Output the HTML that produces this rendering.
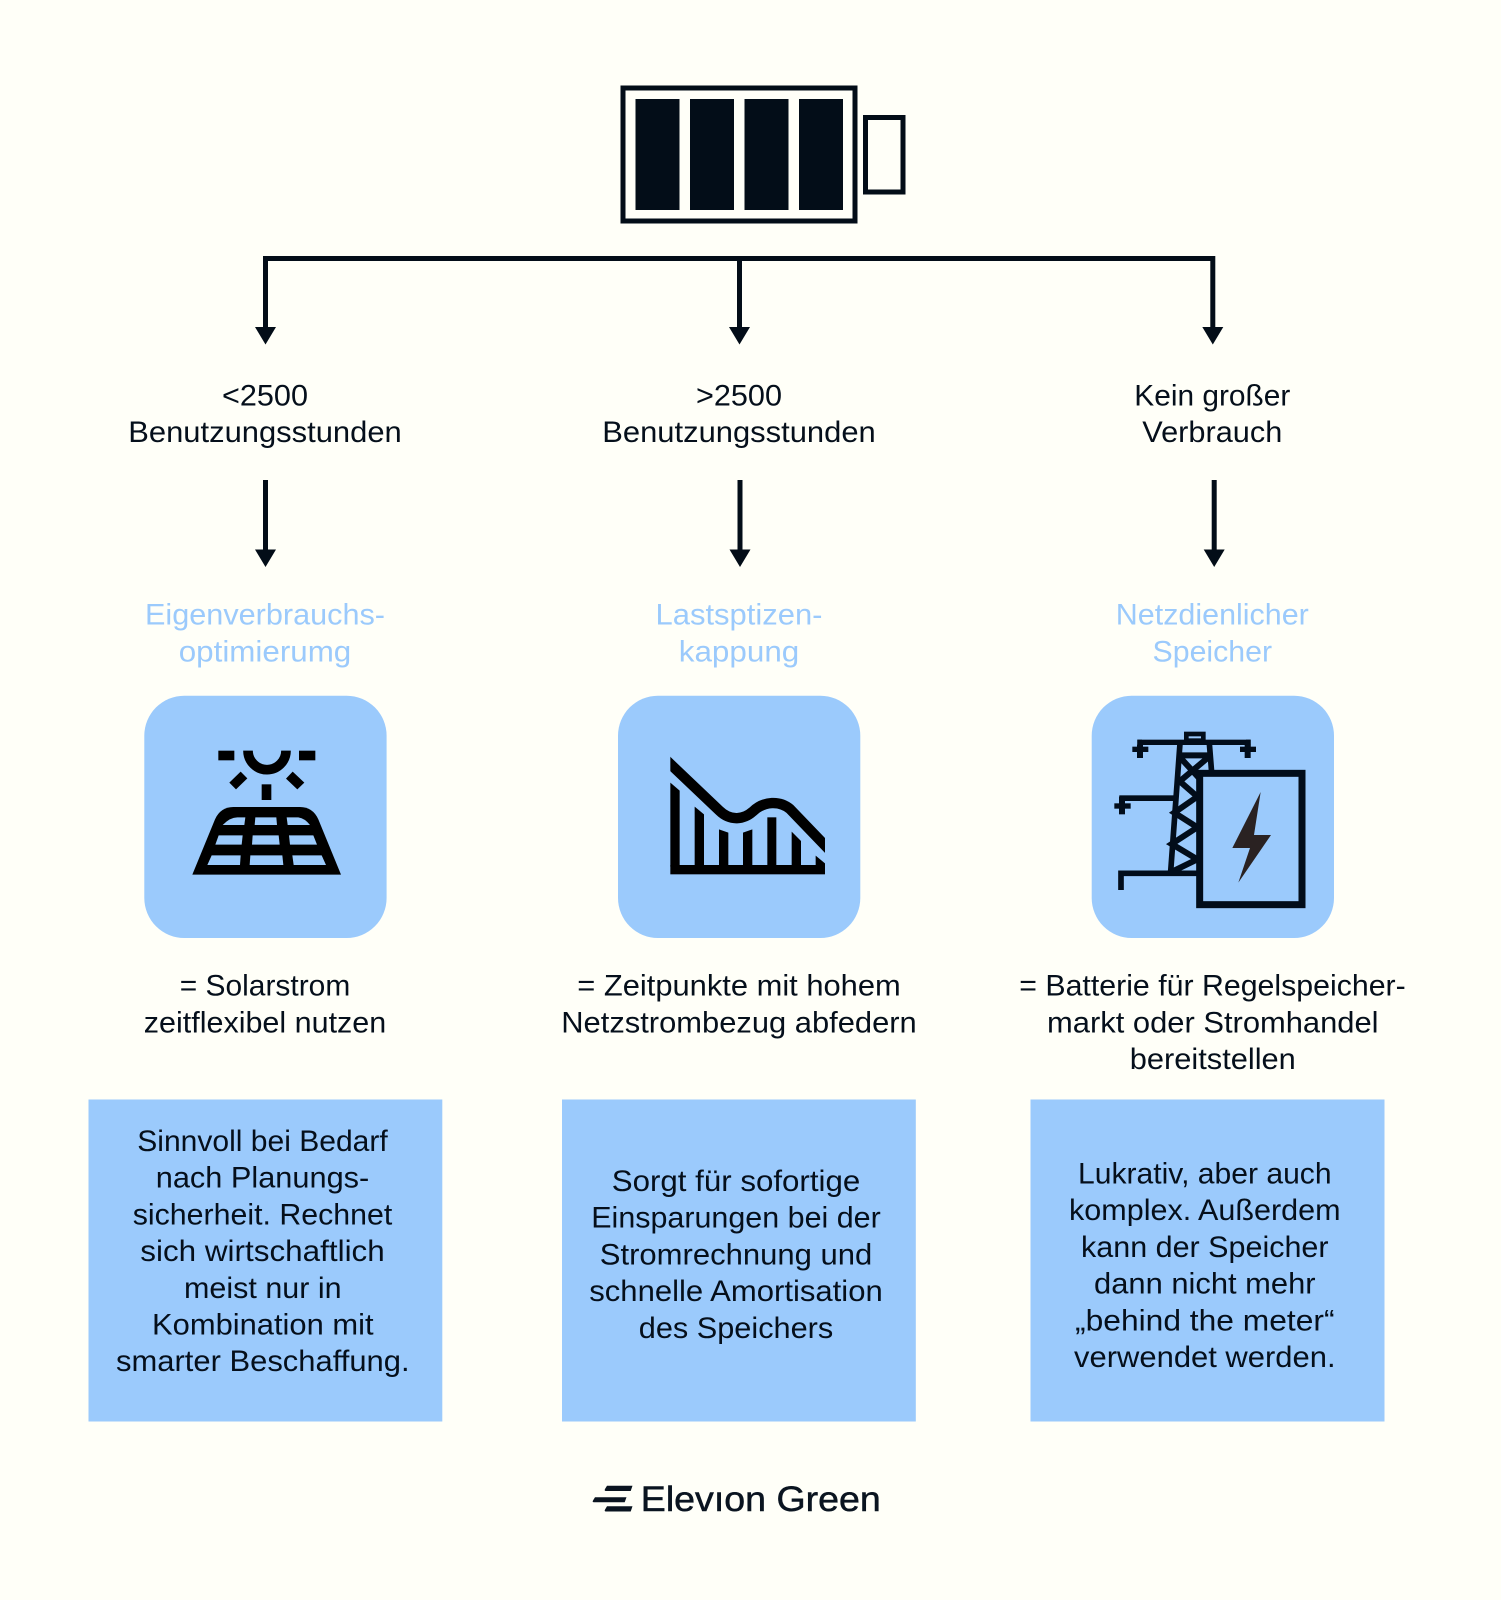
<!DOCTYPE html>
<html><head><meta charset="utf-8"><style>
html,body{margin:0;padding:0;background:#fffff8}
svg{display:block}
text{font-family:"Liberation Sans",sans-serif;font-size:30px;fill:#050f1b;text-anchor:middle;letter-spacing:0}
text.b{fill:#9bcafc}
</style></head><body>
<svg width="1501" height="1600" viewBox="0 0 1501 1600" xmlns="http://www.w3.org/2000/svg">
<rect width="1501" height="1600" fill="#fffff8"/>
<!-- battery -->
<g fill="#030d18">
<rect x="635.5" y="99" width="44" height="111"/><rect x="690" y="99" width="44" height="111"/><rect x="744.5" y="99" width="44" height="111"/><rect x="799" y="99" width="44" height="111"/>
</g>
<rect x="623" y="88" width="232" height="133" fill="none" stroke="#030d18" stroke-width="5"/>
<rect x="865.5" y="117.500" width="37.500" height="74.500" fill="none" stroke="#030d18" stroke-width="5"/>
<!-- connectors -->
<g fill="none" stroke="#030d18" stroke-width="5">
<path d="M265.500 330V258.500H1212.800V330"/><path d="M739.500 258V330"/>
<path d="M265.500 480V553M740 480V553M1214.200 480V553"/>
</g>
<g fill="#030d18">
<path d="M255 327h21l-10.500 17.500zM729 327h21l-10.500 17.500zM1202.300 327h21l-10.500 17.500z"/>
<path d="M255 549.500h21l-10.500 17.500zM729.500 549.500h21l-10.500 17.500zM1203.700 549.500h21l-10.500 17.500z"/>
</g>
<!-- labels -->
<text lengthAdjust="spacingAndGlyphs" x="265" y="405.700" textLength="86">&lt;2500</text>
<text lengthAdjust="spacingAndGlyphs" x="265" y="442.200" textLength="273.500">Benutzungsstunden</text>
<text lengthAdjust="spacingAndGlyphs" x="739" y="405.700" textLength="86">&gt;2500</text>
<text lengthAdjust="spacingAndGlyphs" x="739" y="442.200" textLength="273.500">Benutzungsstunden</text>
<text lengthAdjust="spacingAndGlyphs" x="1212.300" y="405.700" textLength="156">Kein großer</text>
<text lengthAdjust="spacingAndGlyphs" x="1212.300" y="442.200" textLength="140">Verbrauch</text>
<text lengthAdjust="spacingAndGlyphs" class="b" x="265" y="624.700" textLength="240">Eigenverbrauchs-</text>
<text lengthAdjust="spacingAndGlyphs" class="b" x="265" y="661.500" textLength="172.500">optimierumg</text>
<text lengthAdjust="spacingAndGlyphs" class="b" x="739" y="624.700" textLength="167">Lastsptizen-</text>
<text lengthAdjust="spacingAndGlyphs" class="b" x="739" y="661.500" textLength="120.500">kappung</text>
<text lengthAdjust="spacingAndGlyphs" class="b" x="1212.300" y="624.700" textLength="193">Netzdienlicher</text>
<text lengthAdjust="spacingAndGlyphs" class="b" x="1212.300" y="661.500" textLength="119.500">Speicher</text>
<!-- icon boxes -->
<rect x="144.300" y="695.700" width="242.300" height="242.300" rx="40" fill="#9bcafc"/>
<rect x="618" y="695.700" width="242.300" height="242.300" rx="40" fill="#9bcafc"/>
<rect x="1091.700" y="695.700" width="242.300" height="242.300" rx="40" fill="#9bcafc"/>
<!-- solar -->
<g transform="translate(130,680) scale(.33333)" fill="#000">
<rect x="265" y="212" width="48" height="29"/><rect x="507" y="212" width="49" height="29"/>
<path d="M354 212A57 57 0 0 0 468 212" fill="none" stroke="#000" stroke-width="29"/>
<polygon points="298,308 332,275 352,295 318,328"/><polygon points="468,296 488,275 523,308 502,328"/>
<rect x="395" y="313" width="29" height="47"/>
<path d="M187 584H633L565 418Q548 381 510 381H310Q272 381 255 418Z"/>
<g fill="#9bcafc">
<path d="M278 435Q300 412 322 412H346L343 435Z"/>
<polygon points="376,412 439,412 441,435 374,435"/>
<path d="M470 412H505Q525 415 540 435H473Z"/>
<polygon points="266,466 338,466 335,494 256,494"/><polygon points="368,466 446,466 449,494 366,494"/><polygon points="477,466 550,466 561,494 480,494"/>
<polygon points="245,526 332,526 330,555 232,555"/><polygon points="361,526 457,526 460,555 359,555"/><polygon points="487,526 575,526 588,555 491,555"/>
</g>
</g>
<!-- chart -->
<g transform="translate(610,680) scale(.33333)" fill="#000">
<clipPath id="c"><rect x="181" y="200" width="464" height="400"/></clipPath>
<path clip-path="url(#c)" d="M160 232L328 392C362 425 402 418 428 395C462 362 510 362 540 387L665 517" fill="none" stroke="#000" stroke-width="31"/>
<rect x="181" y="555" width="464" height="28"/>
<polygon points="181,308 209,332 209,560 181,560"/>
<polygon points="254,380 282,403 282,560 254,560"/>
<polygon points="327,448 355,458 355,560 327,560"/>
<polygon points="399,458 427,448 427,560 399,560"/>
<rect x="472" y="412" width="27" height="148"/>
<polygon points="545,455 573,483 573,560 545,560"/>
<polygon points="617,527 645,550 645,560 617,560"/>
</g>
<!-- tower -->
<g transform="translate(1080,680) scale(.33333)" fill="#020d1a">
<g fill="none" stroke="#020d1a" stroke-width="18">
<rect x="319" y="162" width="51" height="20" stroke-width="14"/>
<path d="M300 190L272 575M388 190L395 278" stroke-width="17"/>
<path d="M297 226H392M300 232L358 295M385 232L298 305M290 296L352 350L283 398L352 442L275 492L352 538L266 580"/>
</g>
<rect x="172" y="179" width="340" height="16"/><rect x="172" y="179" width="14" height="30"/><rect x="498" y="179" width="14" height="30"/>
<rect x="157" y="200" width="48" height="16"/><rect x="171" y="194" width="18" height="40"/>
<rect x="480" y="200" width="48" height="16"/><rect x="494" y="194" width="18" height="40"/>
<rect x="118" y="346" width="172" height="17"/>
<rect x="103" y="370" width="49" height="16"/><rect x="117" y="350" width="18" height="53"/>
<path d="M123 630V580H355" fill="none" stroke="#020d1a" stroke-width="17"/>
<rect x="359" y="280" width="307" height="394" fill="#9bcafc" stroke="#020d1a" stroke-width="21"/>
<polygon points="542,336 457,504 510,504 475,608 573,465 522,465" fill="#2a2222"/>
</g>
<!-- descriptions -->
<text lengthAdjust="spacingAndGlyphs" x="265" y="995.500" textLength="170.500">= Solarstrom</text>
<text lengthAdjust="spacingAndGlyphs" x="265" y="1032.300" textLength="242.500">zeitflexibel nutzen</text>
<text lengthAdjust="spacingAndGlyphs" x="739" y="995.500" textLength="323.500">= Zeitpunkte mit hohem</text>
<text lengthAdjust="spacingAndGlyphs" x="739" y="1032.300" textLength="355.500">Netzstrombezug abfedern</text>
<text lengthAdjust="spacingAndGlyphs" x="1212.500" y="995.500" textLength="386.500">= Batterie für Regelspeicher-</text>
<text lengthAdjust="spacingAndGlyphs" x="1212.800" y="1032.300" textLength="331.500">markt oder Stromhandel</text>
<text lengthAdjust="spacingAndGlyphs" x="1212.800" y="1069" textLength="166">bereitstellen</text>
<!-- bottom boxes -->
<rect x="88.500" y="1099.500" width="353.800" height="322" fill="#9bcafc"/>
<rect x="562" y="1099.500" width="353.800" height="322" fill="#9bcafc"/>
<rect x="1030.500" y="1099.500" width="354" height="322" fill="#9bcafc"/>
<text lengthAdjust="spacingAndGlyphs" x="262.500" y="1151" textLength="250.500">Sinnvoll bei Bedarf</text>
<text lengthAdjust="spacingAndGlyphs" x="262.500" y="1187.700" textLength="213.500">nach Planungs-</text>
<text lengthAdjust="spacingAndGlyphs" x="262.500" y="1224.400" textLength="259.500">sicherheit. Rechnet</text>
<text lengthAdjust="spacingAndGlyphs" x="262.500" y="1261" textLength="244.500">sich wirtschaftlich</text>
<text lengthAdjust="spacingAndGlyphs" x="262.800" y="1297.800" textLength="157.500">meist nur in</text>
<text lengthAdjust="spacingAndGlyphs" x="262.800" y="1334.500" textLength="221.500">Kombination mit</text>
<text lengthAdjust="spacingAndGlyphs" x="262.800" y="1371.200" textLength="293.500">smarter Beschaffung.</text>
<text lengthAdjust="spacingAndGlyphs" x="736" y="1191" textLength="248.500">Sorgt für sofortige</text>
<text lengthAdjust="spacingAndGlyphs" x="736" y="1227.700" textLength="289.500">Einsparungen bei der</text>
<text lengthAdjust="spacingAndGlyphs" x="736" y="1264.400" textLength="272.500">Stromrechnung und</text>
<text lengthAdjust="spacingAndGlyphs" x="736" y="1301" textLength="293.500">schnelle Amortisation</text>
<text lengthAdjust="spacingAndGlyphs" x="736" y="1337.800" textLength="194.500">des Speichers</text>
<text lengthAdjust="spacingAndGlyphs" x="1204.800" y="1183.500" textLength="253.500">Lukrativ, aber auch</text>
<text lengthAdjust="spacingAndGlyphs" x="1204.800" y="1220.200" textLength="271.500">komplex. Außerdem</text>
<text lengthAdjust="spacingAndGlyphs" x="1204.800" y="1256.900" textLength="247.500">kann der Speicher</text>
<text lengthAdjust="spacingAndGlyphs" x="1204.800" y="1293.500" textLength="221.500">dann nicht mehr</text>
<text lengthAdjust="spacingAndGlyphs" x="1204.800" y="1330.300" textLength="259.500">„behind the meter“</text>
<text lengthAdjust="spacingAndGlyphs" x="1204.800" y="1367" textLength="261.500">verwendet werden.</text>
<!-- logo -->
<g fill="#0a1420">
<path d="M607 1485.700h25.500l-1.800 5.300h-24.700q-2 0-1-2zM595 1497.300h31.500l-1.800 5h-30.700q-2 0-1-1.800zM607 1506.300h25.500l-1.800 5.200h-24.700q-2 0-1-1.900z"/>
</g>
<text lengthAdjust="spacingAndGlyphs" x="760.800" y="1511" textLength="240" style="font-size:35px;fill:#0a1420;stroke:#0a1420;stroke-width:.5">Elevıon Green</text>
</svg>
</body></html>
